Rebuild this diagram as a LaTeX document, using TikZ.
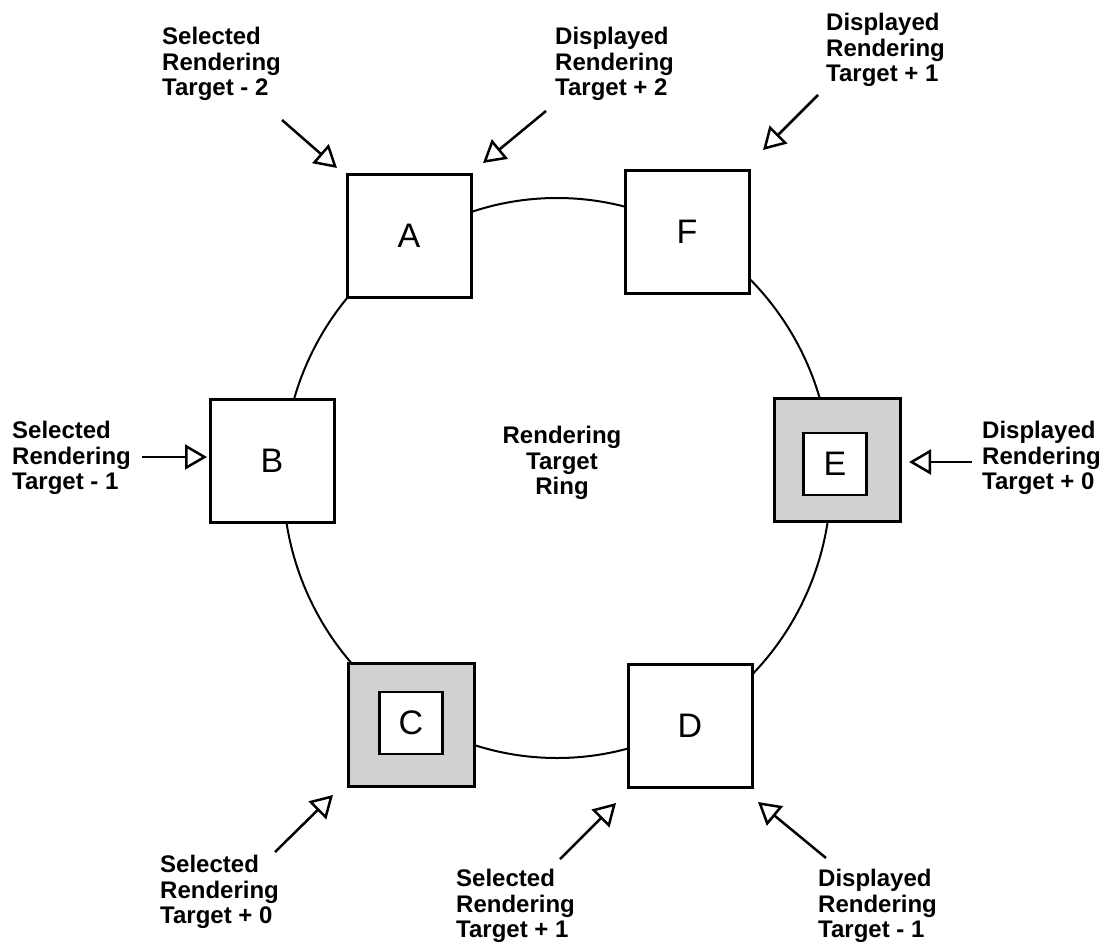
\documentclass[tikz,border=0pt]{standalone}
\usepackage{fontspec}
\setmainfont{Liberation Sans}
\usetikzlibrary{arrows.meta}
\newcommand{\lblfont}{\fontsize{24}{25.5}\selectfont\bfseries}
\newcommand{\boxfont}{\fontsize{34}{36}\selectfont}

\begin{document}
\begin{tikzpicture}[x=1pt,y=-1pt,
  tbox/.style={draw, line width=3pt, fill=white, minimum width=124pt, minimum height=123pt, inner sep=0pt, font=\boxfont},
  shadebox/.style={tbox, fill=black!18, minimum width=126pt},
  innerbox/.style={draw, line width=2.5pt, fill=white, minimum width=63pt, minimum height=62pt, inner sep=0pt, font=\boxfont},
  lbl/.style={align=left, anchor=west, inner sep=0pt, font=\lblfont},
  ptr/.style={line width=2.5pt, -{Triangle[open, length=22pt, width=25pt, line width=2.5pt]}}]
\useasboundingbox (0,0) rectangle (1116,950);
% ring
\draw[line width=2pt] (557,478) ellipse [x radius=274, y radius=280];
\node[font=\lblfont, align=center, inner sep=0pt] (ring) at (562,463) {Rendering\\Target\\Ring};
% rendering targets
\node[tbox] (A) at (409,236) {A};
\node[tbox] (F) at (687,232) {F};
\node[tbox] (B) at (272,461) {B};
\node[tbox] (D) at (690,726) {D};
\node[shadebox] (E) at (837,460) {};
\node[innerbox] (Ein) at (835,464) {E};
\node[shadebox] (C) at (411,725) {};
\node[innerbox] (Cin) at (411,723) {C};
% labels
\node[lbl] (selM2) at (162,64) {Selected\\Rendering\\Target - 2};
\node[lbl] (dispP2) at (555,64) {Displayed\\Rendering\\Target + 2};
\node[lbl] (dispP1) at (826,50) {Displayed\\Rendering\\Target + 1};
\node[lbl] (selM1) at (12,458) {Selected\\Rendering\\Target - 1};
\node[lbl] (dispP0) at (982,458) {Displayed\\Rendering\\Target + 0};
\node[lbl] (selP0) at (160,892) {Selected\\Rendering\\Target + 0};
\node[lbl] (selP1) at (456,906) {Selected\\Rendering\\Target + 1};
\node[lbl] (dispM1) at (818,906) {Displayed\\Rendering\\Target - 1};
% pointer ends
\coordinate (tSelM2) at (282,120);  \coordinate (hSelM2) at (337,168);
\coordinate (tDispP2) at (546,111); \coordinate (hDispP2) at (483,163);
\coordinate (tDispP1) at (818,95);  \coordinate (hDispP1) at (763,150);
\coordinate (tSelM1) at (142,457);  \coordinate (hSelM1) at (207,457);
\coordinate (tDispP0) at (972,462); \coordinate (hDispP0) at (909,462);
\coordinate (tSelP0) at (275,852);  \coordinate (hSelP0) at (333,795);
\coordinate (tSelP1) at (560,859);  \coordinate (hSelP1) at (616,803);
\coordinate (tDispM1) at (826,858); \coordinate (hDispM1) at (758,802);
\foreach \p in {SelM2,DispP2,DispP1,SelM1,DispP0,SelP0,SelP1,DispM1}
  \draw[ptr] (t\p) -- (h\p);
\end{tikzpicture}
\end{document}
